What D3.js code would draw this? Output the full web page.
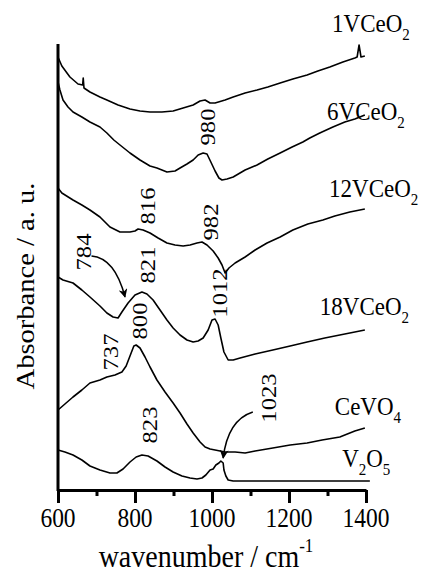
<!DOCTYPE html>
<html>
<head>
<meta charset="utf-8">
<script src="https://cdn.jsdelivr.net/npm/d3@7"></script>
<style>
  body { margin: 0; background: #fff; }
  text { font-family: "Liberation Serif", "Times New Roman", serif; fill: #000; }
</style>
</head>
<body>
<script>
// spectra, [wavenumber, absorbance a.u. (stacked offset)]
const v1CeO2 = [[601,4.31],[610,4.23],[631,4.12],[652,4.05],[664,4.04],[665.5,4.11],[667.5,4.01],[683,3.97],[709,3.92],[727,3.89],[756,3.84],[787,3.80],[813,3.78],[839,3.77],[870,3.77],[899,3.78],[925,3.81],[951,3.84],[969,3.88],[982,3.89],[995,3.86],[1008,3.86],[1034,3.89],[1055,3.92],[1086,3.96],[1117,3.99],[1145,4.02],[1177,4.06],[1210,4.10],[1247,4.14],[1275,4.18],[1306,4.22],[1340,4.27],[1371,4.31],[1377,4.32],[1382,4.44],[1387,4.32],[1397,4.33]];
const v6CeO2 = [[600,4.07],[605,3.99],[613,3.89],[626,3.82],[639,3.77],[662,3.72],[683,3.67],[709,3.62],[727,3.56],[745,3.49],[761,3.44],[787,3.36],[813,3.29],[839,3.23],[857,3.21],[883,3.17],[904,3.18],[917,3.21],[935,3.25],[951,3.29],[964,3.34],[977,3.36],[987,3.35],[997,3.27],[1008,3.18],[1018,3.11],[1026,3.09],[1039,3.10],[1055,3.12],[1086,3.19],[1117,3.24],[1145,3.30],[1177,3.36],[1208,3.42],[1236,3.47],[1254,3.51],[1280,3.56],[1314,3.62],[1345,3.67],[1371,3.70],[1397,3.74]];
const v12CeO2 = [[600,3.01],[610,2.96],[639,2.89],[662,2.84],[683,2.79],[709,2.72],[735,2.62],[761,2.57],[787,2.57],[800,2.58],[808,2.60],[821,2.59],[839,2.56],[860,2.51],[883,2.46],[904,2.44],[925,2.43],[943,2.44],[961,2.46],[974,2.47],[987,2.44],[1003,2.38],[1016,2.31],[1026,2.24],[1034,2.16],[1044,2.21],[1060,2.26],[1086,2.32],[1112,2.39],[1143,2.46],[1177,2.52],[1210,2.59],[1249,2.65],[1288,2.69],[1319,2.73],[1358,2.77],[1397,2.80]];
const v18CeO2 = [[600,2.12],[613,2.09],[639,2.06],[662,1.99],[683,1.92],[709,1.83],[727,1.76],[743,1.72],[756,1.71],[766,1.77],[782,1.86],[800,1.94],[818,1.97],[831,1.95],[847,1.89],[865,1.79],[883,1.69],[899,1.61],[917,1.54],[935,1.49],[951,1.47],[964,1.48],[977,1.51],[990,1.59],[1000,1.69],[1008,1.70],[1016,1.64],[1023,1.51],[1031,1.37],[1042,1.29],[1055,1.29],[1073,1.31],[1112,1.35],[1158,1.39],[1203,1.43],[1247,1.47],[1293,1.51],[1345,1.55],[1397,1.59]];
const ceVO4 = [[600,0.79],[618,0.85],[639,0.92],[662,0.99],[683,1.06],[709,1.09],[727,1.12],[748,1.14],[766,1.17],[777,1.23],[787,1.33],[797,1.43],[803,1.44],[813,1.41],[826,1.32],[839,1.22],[857,1.09],[878,0.97],[899,0.86],[917,0.76],[935,0.65],[951,0.56],[969,0.47],[982,0.42],[995,0.40],[1021,0.38],[1034,0.37],[1060,0.37],[1086,0.36],[1112,0.38],[1158,0.41],[1203,0.44],[1247,0.46],[1286,0.49],[1332,0.52],[1371,0.58],[1397,0.61]];
const v2O5 = [[600,0.39],[618,0.37],[639,0.34],[662,0.29],[683,0.23],[709,0.19],[735,0.16],[753,0.16],[769,0.20],[787,0.27],[803,0.32],[818,0.34],[834,0.33],[857,0.28],[878,0.22],[899,0.17],[922,0.13],[943,0.11],[961,0.10],[974,0.11],[984,0.14],[995,0.19],[1003,0.20],[1010,0.24],[1018,0.26],[1023,0.28],[1029,0.26],[1031,0.19],[1036,0.13],[1042,0.09],[1055,0.08],[1125,0.08],[1228,0.08],[1332,0.08],[1410,0.08]];

const spectra = [v1CeO2, v6CeO2, v12CeO2, v18CeO2, ceVO4, v2O5];

// sample names: [main, subscript, before-subscript part, wavenumber, a.u.]
const names = [
  ["1VCeO", "2", "", 1312, 4.57],
  ["6VCeO", "2", "", 1299, 3.69],
  ["12VCeO", "2", "", 1304, 2.92],
  ["18VCeO", "2", "", 1280, 1.74],
  ["CeVO", "4", "", 1319, 0.74],
  ["V", "2", "O", 1338, 0.22]
];

// peak labels: [text, wavenumber, a.u.] (centre of rotated label)
const peaks = [
  ["980", 987, 3.62],
  ["816", 831, 2.83],
  ["982", 995, 2.67],
  ["784", 665, 2.37],
  ["821", 831, 2.24],
  ["1012", 1018, 1.96],
  ["800", 810, 1.68],
  ["737", 735, 1.37],
  ["1023", 1145, 0.91],
  ["823", 836, 0.64]
];

// arrows: start, control, end
const arrows = [
  [[687, 2.33], [748, 2.31], [774, 1.92]],
  [[1106, 0.77], [1041, 0.69], [1029, 0.31]]
];

const majorTicks = [600, 800, 1000, 1200, 1400];
const minorTicks = [700, 900, 1100, 1300];

const W = 427, H = 574;
const stretch = 1.12;

const svg = d3.select("body").append("svg")
    .attr("width", W)
    .attr("height", H);

const x = d3.scaleLinear().domain([600, 1400]).range([58, 366]);
const y = d3.scaleLinear().domain([0, 4.45]).range([489, 44]);

// arrow head
svg.append("defs").append("marker")
    .attr("id", "head")
    .attr("viewBox", "0 0 10 10")
    .attr("refX", 9).attr("refY", 5)
    .attr("markerWidth", 9).attr("markerHeight", 9)
    .attr("markerUnits", "userSpaceOnUse")
    .attr("orient", "auto")
  .append("path")
    .attr("d", "M0,0 L10,5 L0,10 L3,5 Z")
    .attr("fill", "#000");

// spectra
const line = d3.line()
    .x(d => x(d[0]))
    .y(d => y(d[1]))
    .curve(d3.curveLinear);

svg.selectAll(".spec")
    .data(spectra)
    .enter().append("path")
    .attr("class", "spec")
    .attr("d", line)
    .attr("fill", "none")
    .attr("stroke", "#000")
    .attr("stroke-width", 1.6)
    .attr("stroke-linejoin", "round");

// x axis
const axis = svg.append("g").attr("transform", "translate(0,490)");
axis.call(d3.axisBottom(x).tickValues(minorTicks).tickSize(6).tickFormat(""))
axis.selectAll("line").attr("stroke-width", 3);
axis.select(".domain").remove();

const axisMajor = svg.append("g").attr("transform", "translate(0,490)")
    .call(d3.axisBottom(x).tickValues(majorTicks).tickSize(13).tickSizeOuter(0).tickFormat(""));
axisMajor.selectAll("line").attr("stroke-width", 3);
axisMajor.select(".domain").attr("stroke-width", 3);

// tick labels
majorTicks.forEach(t => {
  svg.append("text")
      .attr("transform", "translate(" + x(t) + ",527) scale(1," + stretch + ")")
      .attr("text-anchor", "middle")
      .style("font-size", "23.5px")
      .text(t);
});

// y axis (no ticks)
svg.append("line")
    .attr("x1", 58).attr("x2", 58)
    .attr("y1", y(4.45)).attr("y2", 491)
    .attr("stroke", "#000")
    .attr("stroke-width", 3);

// axis titles
const xt = svg.append("text")
    .attr("transform", "translate(206,567) scale(1," + stretch + ")")
    .attr("text-anchor", "middle")
    .style("font-size", "28px");
xt.append("tspan").text("wavenumber / cm");
xt.append("tspan").attr("dy", -13).style("font-size", "17px").text("-1");

svg.append("text")
    .attr("transform", "translate(34,286) scale(1," + stretch + ") rotate(-90)")
    .attr("text-anchor", "middle")
    .style("font-size", "25.5px")
    .text("Absorbance / a. u.");

// sample names
names.forEach(n => {
  const t = svg.append("text")
      .attr("transform", "translate(" + x(n[3]) + "," + y(n[4]) + ") scale(1," + stretch + ")")
      .style("font-size", "23px");
  t.append("tspan").text(n[0]);
  t.append("tspan").attr("dy", 7).style("font-size", "15px").text(n[1]);
  if (n[2]) {
    t.append("tspan").attr("dy", -7).text(n[2]);
    t.append("tspan").attr("dy", 7).style("font-size", "15px").text("5");
  }
});

// peak labels
peaks.forEach(p => {
  svg.append("text")
      .attr("transform", "translate(" + x(p[1]) + "," + y(p[2]) + ") scale(1," + stretch + ") rotate(-90)")
      .attr("text-anchor", "middle")
      .attr("dy", "0.35em")
      .style("font-size", "22px")
      .text(p[0]);
});

// arrows
arrows.forEach(a => {
  const p = d3.path();
  p.moveTo(x(a[0][0]), y(a[0][1]));
  p.quadraticCurveTo(x(a[1][0]), y(a[1][1]), x(a[2][0]), y(a[2][1]));
  svg.append("path")
      .attr("d", p.toString())
      .attr("fill", "none")
      .attr("stroke", "#000")
      .attr("stroke-width", 1.5)
      .attr("marker-end", "url(#head)");
});
</script>
</body>
</html>
